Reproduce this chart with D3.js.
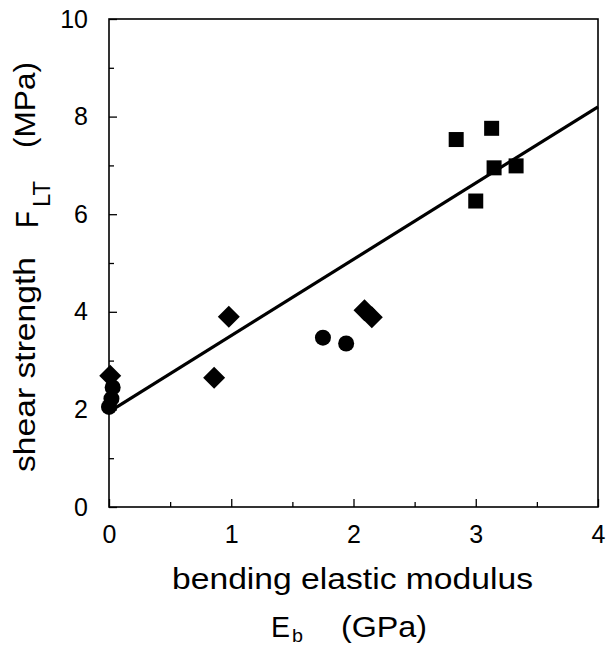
<!DOCTYPE html>
<html><head><meta charset="utf-8">
<script src="https://cdn.jsdelivr.net/npm/d3@7"></script>
<style>body{margin:0;background:#fff} text{font-family:"Liberation Sans",Arial,Helvetica,sans-serif;fill:#000}</style>
</head><body><svg id="c" width="613" height="646"></svg>
<script>
// data
const squares  = [[2.84,7.53],[3.13,7.76],[3.15,6.95],[3.33,6.99],[3.00,6.27]];
const diamonds = [[0.01,2.69],[0.86,2.65],[0.98,3.90],[2.09,4.03],[2.15,3.89]];
const circles  = [[0.00,2.05],[0.02,2.22],[0.03,2.45],[1.75,3.47],[1.94,3.35]];
const fitLine  = [[0,1.95],[4,8.2]];
const xTicks = [0,1,2,3,4];
const yTicks = [0,2,4,6,8,10];
const xMinor = [0.5,1.5,2.5,3.5];
const yMinor = [1,3,5,7,9];

const svg = d3.select("#c");
const L=109,R=598,T=19,B=507;
const x = d3.scaleLinear().domain([0,4]).range([L,R]);
const y = d3.scaleLinear().domain([0,10]).range([B,T]);

// frame
svg.append("rect").attr("x",L).attr("y",T).attr("width",R-L).attr("height",B-T)
  .attr("fill","none").attr("stroke","#000").attr("stroke-width",1.6);

// axes (ticks inward)
const xAx = svg.append("g").attr("transform",`translate(0,${B})`)
  .call(d3.axisBottom(x).tickValues(xTicks).tickSize(-8).tickPadding(18).tickFormat(d3.format("d")));
const xAxm = svg.append("g").attr("transform",`translate(0,${B})`)
  .call(d3.axisBottom(x).tickValues(xMinor).tickSize(-5).tickFormat(""));
const yAx = svg.append("g").attr("transform",`translate(${L},0)`)
  .call(d3.axisLeft(y).tickValues(yTicks).tickSize(-8).tickPadding(21).tickFormat(d3.format("d")));
const yAxm = svg.append("g").attr("transform",`translate(${L},0)`)
  .call(d3.axisLeft(y).tickValues(yMinor).tickSize(-5).tickFormat(""));
[xAx,xAxm,yAx,yAxm].forEach(g=>{
  g.select(".domain").remove();
  g.selectAll("line").attr("stroke","#000").attr("stroke-width",1.3);
  g.selectAll("text").attr("font-size",25).attr("font-family","Liberation Sans, Arial, sans-serif").attr("fill","#000");
});

// fit line
svg.append("path").datum(fitLine)
  .attr("d",d3.line().x(d=>x(d[0])).y(d=>y(d[1])))
  .attr("stroke","#000").attr("stroke-width",3.2).attr("fill","none");

// markers
svg.append("g").selectAll("rect").data(squares).join("rect")
  .attr("x",d=>x(d[0])-7.5).attr("y",d=>y(d[1])-7.5).attr("width",15).attr("height",15).attr("fill","#000");
svg.append("g").selectAll("path").data(diamonds).join("path")
  .attr("transform",d=>`translate(${x(d[0])},${y(d[1])})`)
  .attr("d","M0,-11L11,0L0,11L-11,0Z").attr("fill","#000");
svg.append("g").selectAll("circle").data(circles).join("circle")
  .attr("cx",d=>x(d[0])).attr("cy",d=>y(d[1])).attr("r",8).attr("fill","#000");

// x label
svg.append("text").attr("x",172).attr("y",589).attr("font-size",30)
  .attr("textLength",361).attr("lengthAdjust","spacingAndGlyphs").text("bending elastic modulus");
svg.append("text").attr("x",271).attr("y",637).attr("font-size",30)
  .attr("textLength",19).attr("lengthAdjust","spacingAndGlyphs").text("E");
svg.append("text").attr("x",292).attr("y",642).attr("font-size",19)
  .attr("textLength",11).attr("lengthAdjust","spacingAndGlyphs").text("b");
svg.append("text").attr("x",341).attr("y",637).attr("font-size",29)
  .attr("textLength",86).attr("lengthAdjust","spacingAndGlyphs").text("(GPa)");

// y label (rotated)
const yl = svg.append("g").attr("transform","rotate(-90)");
yl.append("text").attr("x",-472).attr("y",35).attr("font-size",30)
  .attr("textLength",215).attr("lengthAdjust","spacingAndGlyphs").text("shear strength");
yl.append("text").attr("x",-228).attr("y",38).attr("font-size",31)
  .attr("textLength",17).attr("lengthAdjust","spacingAndGlyphs").text("F");
yl.append("text").attr("x",-207).attr("y",50).attr("font-size",24)
  .attr("textLength",26).attr("lengthAdjust","spacingAndGlyphs").text("LT");
yl.append("text").attr("x",-148).attr("y",35).attr("font-size",30)
  .attr("textLength",86).attr("lengthAdjust","spacingAndGlyphs").text("(MPa)");
</script></body></html>
